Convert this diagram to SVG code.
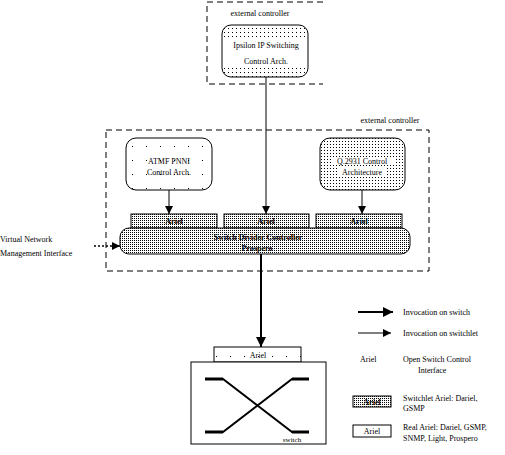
<svg xmlns="http://www.w3.org/2000/svg" width="505" height="455" viewBox="0 0 505 455">
<defs>
<pattern id="dense" width="2" height="2" patternUnits="userSpaceOnUse"><rect width="2" height="2" fill="#fff"/><rect width="1" height="1" fill="#000"/></pattern>
<pattern id="medium" width="3" height="3" patternUnits="userSpaceOnUse"><rect width="3" height="3" fill="#fff"/><rect width="1" height="1" fill="#000"/></pattern>
<pattern id="rows" width="4" height="4" patternUnits="userSpaceOnUse"><rect width="4" height="4" fill="#fff"/><rect width="1" height="1" fill="#000"/></pattern>
<pattern id="sparse" width="14" height="14" patternUnits="userSpaceOnUse"><rect width="14" height="14" fill="#fff"/><rect x="6" y="6" width="1" height="1" fill="#000"/></pattern>
<marker id="ah" viewBox="0 0 8 8" refX="8" refY="4" markerWidth="8" markerHeight="8" markerUnits="userSpaceOnUse" orient="auto"><path d="M0,0 L8,4 L0,8 z" fill="#000"/></marker>
<marker id="ahb" viewBox="0 0 8 8" refX="8" refY="4" markerWidth="5" markerHeight="5" orient="auto"><path d="M0,0 L8,4 L0,8 z" fill="#000"/></marker>
</defs>
<style>
text{font-family:"Liberation Serif","Times New Roman",serif;font-size:8px;fill:#000}
.c{text-anchor:middle}
.b{font-weight:bold}
.box{stroke:#000;stroke-width:1}
.dash{fill:none;stroke:#000;stroke-width:1;stroke-dasharray:6,4}
.thin{fill:none;stroke:#000;stroke-width:1}
.thick{fill:none;stroke:#000;stroke-width:2}
.bg{fill:#fff}
</style>
<rect width="505" height="455" fill="#fff"/>

<g id="top-controller">
<path class="dash" d="M323,2 H207 V84 H323"/>
<text x="260" y="16" class="c">external controller</text>
</g>
<g id="ipsilon">
<rect class="box" x="222" y="25" width="86" height="52" rx="9" fill="url(#rows)"/>
<rect class="bg" x="224" y="40" width="82" height="27"/>
<text x="266" y="48" class="c">Ipsilon IP Switching</text>
<text x="266" y="64" class="c">Control Arch.</text>
</g>

<g id="main-controller">
<rect class="dash" x="106" y="130" width="323" height="141"/>
<text x="390" y="123" class="c">external controller</text>
</g>
<g id="atmf">
<rect class="box" x="126" y="138" width="86" height="52" rx="10" fill="url(#sparse)"/>
<text x="169" y="164" class="c">ATMF PNNI</text>
<text x="169" y="175" class="c">Control Arch.</text>
</g>
<g id="q2931">
<rect class="box" x="320" y="138" width="85" height="52" rx="10" fill="url(#medium)"/>
<rect class="bg" x="331" y="157" width="63" height="8"/>
<rect class="bg" x="338" y="168" width="49" height="8"/>
<text x="362" y="164" class="c">Q.2931 Control</text>
<text x="362" y="175" class="c">Architecture</text>
</g>
<g id="ariel1">
<rect class="box" x="131" y="214" width="86" height="14" fill="url(#dense)"/>
<text x="174" y="224" class="c b">Ariel</text>
</g>
<g id="ariel2">
<rect class="box" x="224" y="214" width="85" height="14" fill="url(#dense)"/>
<text x="266" y="224" class="c b">Ariel</text>
</g>
<g id="ariel3">
<rect class="box" x="316" y="214" width="86" height="14" fill="url(#dense)"/>
<text x="359" y="224" class="c b">Ariel</text>
</g>
<g id="divider">
<rect class="box" x="120" y="228" width="290" height="26" rx="9" fill="url(#dense)"/>
<text x="258" y="240" class="c b">Switch Divider Controller</text>
<text x="257" y="251" class="c b">Prospero</text>
</g>
<g id="vnmi">
<text x="0" y="242">Virtual Network</text>
<text x="0" y="256">Management Interface</text>
</g>

<g id="switch-ariel">
<rect class="box" x="214" y="347" width="87" height="15" fill="url(#sparse)"/>
<text x="258" y="358" class="c">Ariel</text>
</g>
<g id="switch">
<rect class="box" x="191" y="362" width="135" height="82" fill="#fff"/>
<path class="thick" d="M205,379 H223 L292,432 H309"/>
<path class="thick" d="M205,432 H223 L292,379 H309"/>
<path d="M205,379 H223 M292,432 H309 M205,432 H223 M292,379 H309" stroke="#000" stroke-width="3" fill="none"/>
<text x="292" y="442" class="c" style="font-size:7px">switch</text>
</g>

<g id="connectors">
<line class="thin" x1="266" y1="77" x2="266" y2="214" marker-end="url(#ah)"/>
<line class="thin" x1="169" y1="190" x2="169" y2="214" marker-end="url(#ah)"/>
<line class="thin" x1="362" y1="190" x2="362" y2="214" marker-end="url(#ah)"/>
<line x1="94" y1="246" x2="120" y2="246" stroke="#000" stroke-width="1.5" stroke-dasharray="2,2" marker-end="url(#ah)"/>
<line class="thick" x1="261" y1="254" x2="261" y2="347" marker-end="url(#ahb)"/>
</g>

<g id="legend">
<line class="thick" x1="358" y1="312" x2="393" y2="312" marker-end="url(#ahb)"/>
<text x="403" y="315">Invocation on switch</text>
<line class="thin" x1="358" y1="333" x2="391" y2="333" marker-end="url(#ah)"/>
<text x="403" y="336">Invocation on switchlet</text>
<text x="360" y="362">Ariel</text>
<text x="403" y="362">Open Switch Control</text>
<text x="418" y="373">Interface</text>
<rect class="box" x="353" y="396" width="38" height="11" fill="url(#dense)"/>
<text x="372" y="405" class="c b">Ariel</text>
<text x="403" y="401">Switchlet Ariel: Dariel,</text>
<text x="403" y="411">GSMP</text>
<rect class="box" x="353" y="425" width="38" height="12" fill="#fff"/>
<text x="372" y="434" class="c">Ariel</text>
<text x="403" y="430">Real Ariel: Dariel, GSMP,</text>
<text x="403" y="441">SNMP, Light, Prospero</text>
</g>
</svg>
